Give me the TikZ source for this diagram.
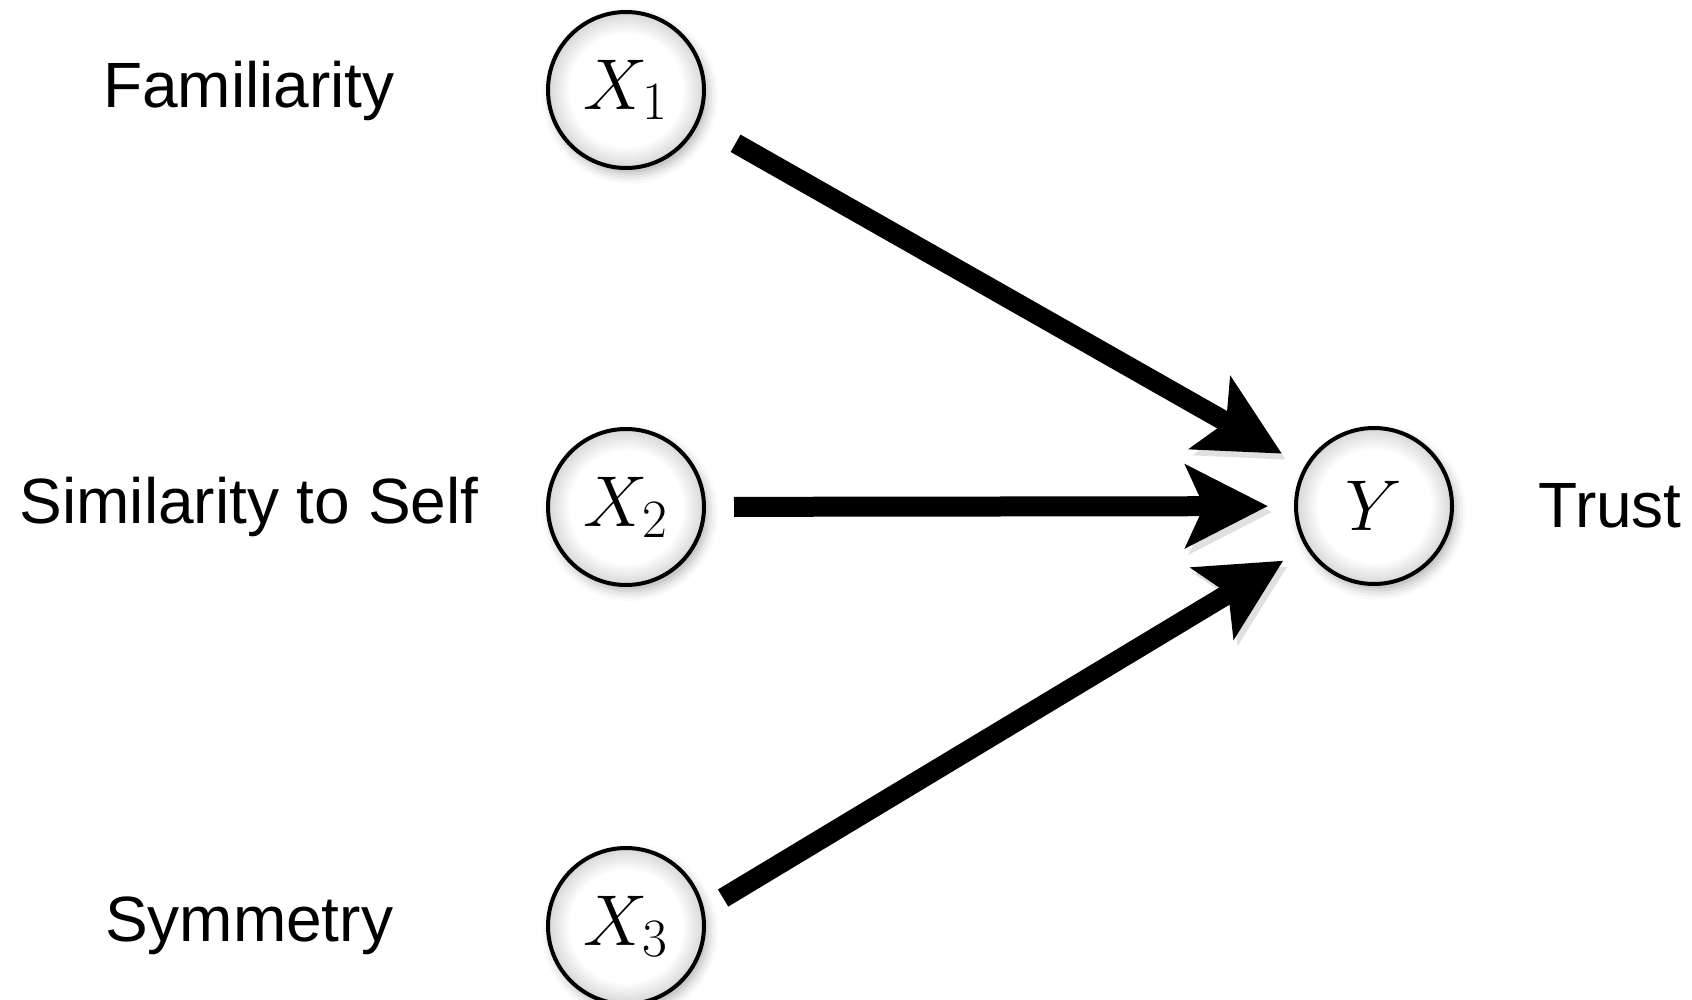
\RequirePackage{fix-cm}
\documentclass[tikz,border=0pt]{standalone}
\usepackage{fontspec}
\usepackage{tikz}
\usetikzlibrary{arrows.meta,shadows.blur}
\newfontfamily\labelfont{Liberation Sans}
\DeclareMathSizes{36}{36}{27}{20}
\pgfdeclareradialshading{varglow}{\pgfpointorigin}{color(0bp)=(white);color(18bp)=(white);color(25bp)=(black!16);color(50bp)=(black!16)}
\tikzset{
  var/.style={circle,draw=black,line width=2pt,minimum size=78pt,inner sep=0pt,
    shading=varglow,
    blur shadow={shadow xshift=2pt,shadow yshift=-3pt,shadow blur radius=5pt,shadow opacity=30},
    font=\fontsize{36}{42}\selectfont},
  lbl/.style={font=\labelfont\fontsize{32}{38}\selectfont},
  arr/.style={-{Stealth[length=41pt,width=41pt,inset=9pt]},line width=10pt,
    shorten <=14pt,shorten >=13pt,
    preaction={draw=black,opacity=0.12,transform canvas={shift={(2pt,-3pt)}}}},
}
\begin{document}
\begin{tikzpicture}[x=0.5pt,y=-0.5pt]
  \useasboundingbox (0,0) rectangle (1692,1000);
  % variables
  \node[var] (x1) at (626,90) {$X_1$};
  \node[var] (x2) at (626,507) {$X_2$};
  \node[var] (x3) at (626,926) {$X_3$};
  \node[var] (y) at (1374,506) {$Y$};
  % names
  \node[lbl] (fam) at (249,91) {Familiarity};
  \node[lbl] (sim) at (249,507) {Similarity to Self};
  \node[lbl] (sym) at (249,926) {Symmetry};
  \node[lbl] (tru) at (1610,506) {Trust};
  % effects
  \draw[arr,shorten <=21pt] (x1.-24) -- (y);
  \draw[arr] (x2) -- (y);
  \draw[arr,shorten <=11pt] (x3.12) -- (y);
\end{tikzpicture}
\end{document}
